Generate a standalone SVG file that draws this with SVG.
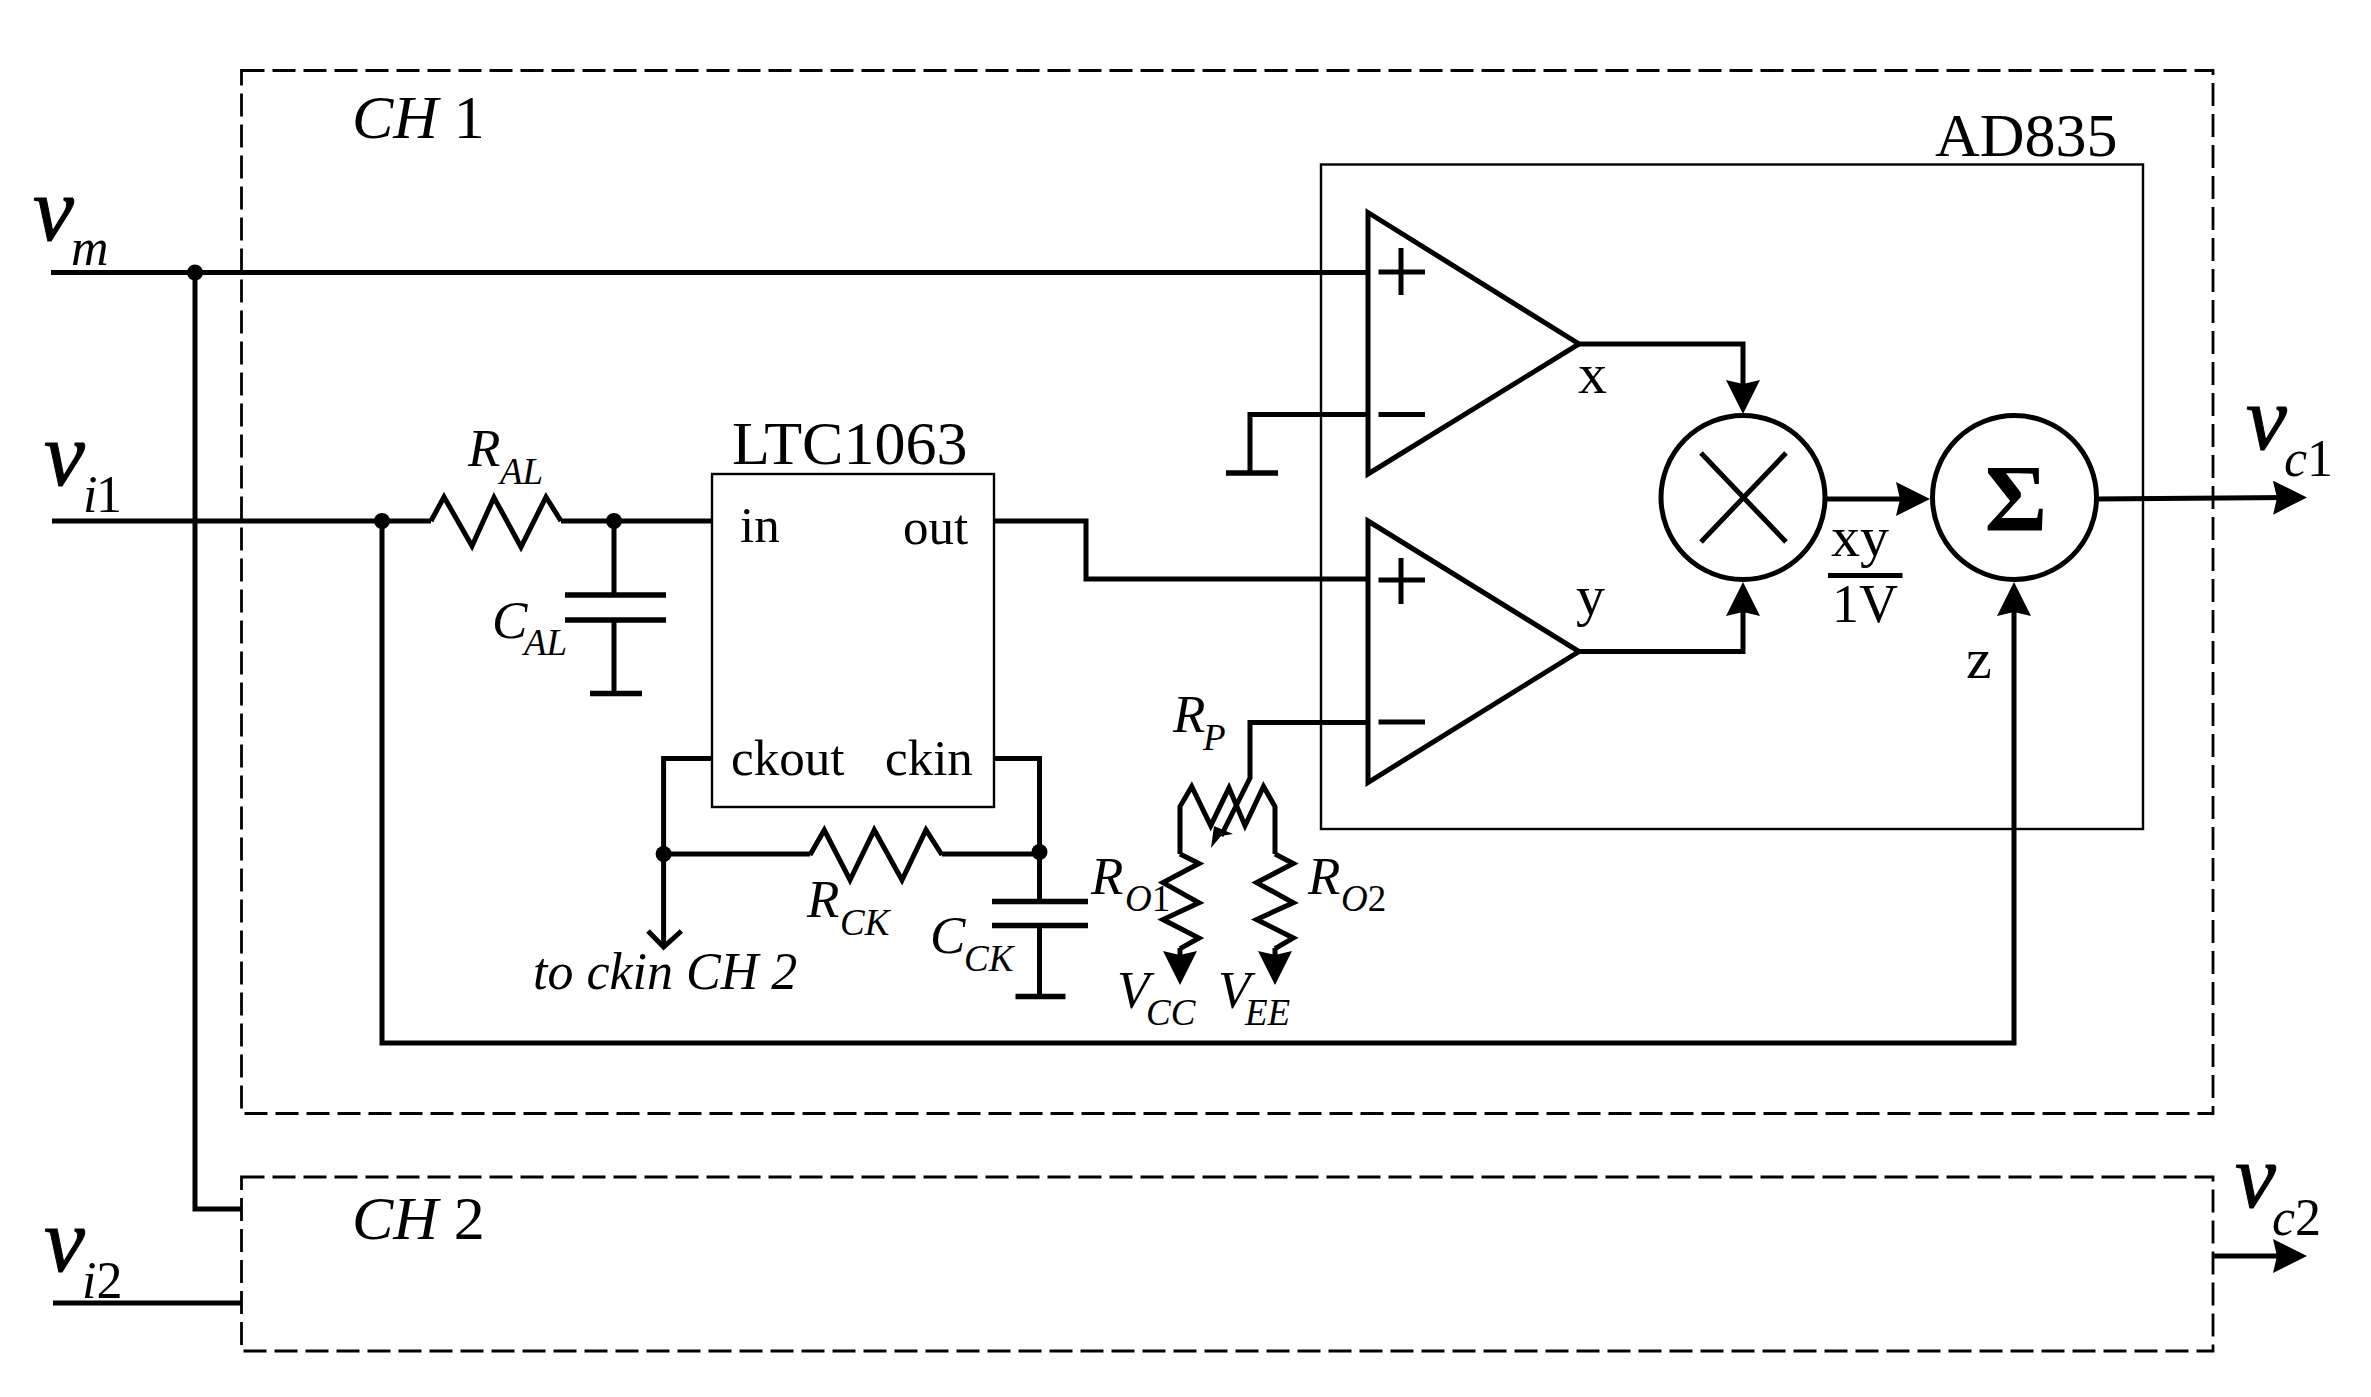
<svg xmlns="http://www.w3.org/2000/svg" width="2371" height="1397" viewBox="0 0 2371 1397">
<style>
text{font-family:"Liberation Serif","Times New Roman",serif;fill:#000}
.i{font-style:italic}
.s{font-size:51px}
.m{font-size:62px}
.l{font-size:58px}
.v{font-size:92px;font-style:italic;stroke:#000;stroke-width:1}
.sub{font-size:52px;font-style:italic}
.r{font-size:53px;font-style:italic}
.ss{font-size:37px;font-style:italic}
.w{fill:none;stroke:#000;stroke-width:5;stroke-linejoin:miter;stroke-linecap:butt}
.t{fill:none;stroke:#000;stroke-width:2.4}
.d{fill:none;stroke:#000;stroke-width:2.8;stroke-dasharray:23 8}
.p{fill:none;stroke:#000;stroke-width:5.500}
.dot{fill:#000}
</style>
<defs>
<marker id="head" markerUnits="userSpaceOnUse" markerWidth="34" markerHeight="34" viewBox="0 0 34 34" refX="22" refY="17" orient="auto">
<path d="M0 0L34 17L0 34L4 17Z" fill="#000"/>
</marker>
</defs>
<rect width="2371" height="1397" fill="#fff"/>

<g id="ch1-box"><rect class="d" x="241.5" y="70.5" width="1971.5" height="1043"/><text class="m" x="352" y="138"><tspan class="i">CH</tspan> 1</text></g>
<g id="ch2-box"><rect class="d" x="241.5" y="1177" width="1971.5" height="174"/><text class="m" x="352" y="1239"><tspan class="i">CH</tspan> 2</text></g>

<g id="connectors">
<path class="w" d="M51 272.500H1368"/>
<path class="w" d="M195 272.500V1209H242"/>
<path class="w" d="M52 521H431"/>
<path class="w" d="M561 521H712"/>
<path class="w" d="M382 521V1043H2014V594" marker-end="url(#head)"/>
<path class="w" d="M993 521H1086V579H1368"/>
<path class="w" d="M1250 414.500H1368M1250 412V473"/>
<path class="w" d="M1250 722.500H1368M1250 720V778L1221 836"/>
<path class="w" d="M614 521V595M614 620V693"/>
<path class="w" d="M712 758.500H663.600V945"/>
<path class="w" d="M648 931L663.600 947L681.400 931"/>
<path class="w" d="M664 854H810M942 854H1039"/>
<path class="w" d="M994 758.500H1039.500V901M1039.500 925V996"/>
<path class="w" d="M1180 948V973" marker-end="url(#head)"/>
<path class="w" d="M1275 948V973" marker-end="url(#head)"/>
<path class="w" d="M1579 344H1743V402" marker-end="url(#head)"/>
<path class="w" d="M1579 651.500H1743V594" marker-end="url(#head)"/>
<path class="w" d="M1826 499H1918" marker-end="url(#head)"/>
<path class="w" d="M2096 499L2295 497.500" marker-end="url(#head)"/>
<path class="w" d="M2213 1256H2295" marker-end="url(#head)"/>
<path class="w" d="M53 1303H242"/>
<circle class="dot" cx="195" cy="272.500" r="8"/>
<circle class="dot" cx="382" cy="521" r="8"/>
<circle class="dot" cx="614" cy="521" r="8"/>
<circle class="dot" cx="663.600" cy="854" r="8"/>
<circle class="dot" cx="1039.500" cy="852" r="8"/>
</g>

<g id="ground-x"><path class="p" d="M1226 473H1278"/></g>
<g id="label-vm"><text class="v" x="33" y="240">v</text><text class="sub" x="71" y="265">m</text></g>
<g id="label-vi1"><text class="v" x="44" y="485">v</text><text class="sub" x="83" y="512">i</text><text class="l" x="96" y="512" style="font-size:52px">1</text></g>
<g id="label-vi2"><text class="v" x="44" y="1271">v</text><text class="sub" x="82" y="1298">i<tspan font-style="normal">2</tspan></text></g>
<g id="label-vc1"><text class="v" x="2246" y="449">v</text><text class="sub" x="2284" y="476">c<tspan font-style="normal">1</tspan></text></g>
<g id="label-vc2"><text class="v" x="2235" y="1207">v</text><text class="sub" x="2272" y="1235">c<tspan font-style="normal">2</tspan></text></g>

<g id="r-al"><path class="w" d="M431 521L444 497L472 546L494 497.500L521 547L546 497L561 521"/><text class="r" x="468" y="466">R</text><text class="ss" x="500" y="484">AL</text></g>
<g id="c-al"><path class="p" d="M565 595H666M565 620H666M590 693.500H642"/><text class="r" x="492" y="638">C</text><text class="ss" x="524" y="655">AL</text></g>

<g id="ltc1063"><rect class="t" x="712" y="474" width="282" height="333"/><text class="m" x="732" y="464">LTC1063</text><text class="s" x="740" y="542">in</text><text class="s" x="903" y="544">out</text><text class="s" x="731" y="775">ckout</text><text class="s" x="885" y="775">ckin</text></g>

<g id="r-ck"><path class="w" d="M810 855L824.300 830L850 880L874.300 830L902 880L926 830L942 855"/><text class="r" x="807" y="917">R</text><text class="ss" x="840" y="935">CK</text></g>
<g id="c-ck"><path class="p" d="M992 901.500H1088M992 925.500H1088M1015.500 996.500H1065.500"/><text class="r" x="930" y="953">C</text><text class="ss" x="964" y="971">CK</text></g>
<g id="label-to-ckin"><text class="i" font-size="52" x="533" y="989">to ckin CH 2</text></g>

<g id="r-p"><path class="w" d="M1180 854V806.600L1191.700 786.500L1210.700 825.700L1229 787.800L1245 825.700L1263.500 786.500L1275 806.600V854"/><path class="dot" d="M1211 848L1214 826L1233 834L1221 836Z"/><text class="r" x="1173" y="732">R</text><text class="ss" x="1203" y="750">P</text></g>
<g id="r-o1"><path class="w" d="M1180 854L1199 863.500L1163 882.600L1199 902.700L1163 919.500L1199 938L1180 948.600"/><text class="r" x="1091" y="894">R</text><text class="ss" x="1125" y="911">O<tspan font-style="normal">1</tspan></text></g>
<g id="r-o2"><path class="w" d="M1275 854L1293.300 863.500L1256.600 882.600L1293.300 902.700L1256.600 919.500L1293.300 938L1275 948.600"/><text class="r" x="1308" y="894">R</text><text class="ss" x="1341" y="911">O<tspan font-style="normal">2</tspan></text></g>
<g id="label-vcc"><text class="r" x="1117" y="1008">V</text><text class="ss" x="1146" y="1025">CC</text></g>
<g id="label-vee"><text class="r" x="1218" y="1008">V</text><text class="ss" x="1245" y="1025">EE</text></g>

<g id="ad835"><rect class="t" x="1321" y="164.500" width="822" height="664.500"/><text class="m" x="1935" y="156">AD835</text></g>
<g id="opamp-x"><path class="w" d="M1368 212.500L1579 344L1368 474Z"/><path class="w" d="M1378.500 272H1425M1401 248V295M1378.500 414.500H1425"/><text class="l" x="1578" y="393">x</text></g>
<g id="opamp-y"><path class="w" d="M1368 521L1579 651.500L1368 782.500Z"/><path class="w" d="M1378.500 580H1425M1401 558V604M1378.500 722H1425"/><text class="l" x="1576" y="615">y</text></g>
<g id="multiplier"><circle class="w" cx="1743" cy="497.500" r="82"/><path class="w" d="M1701 453L1786 542M1786 453L1701 542"/></g>
<g id="summer"><circle class="w" cx="2014.500" cy="497.500" r="82"/><text x="2016" y="531" text-anchor="middle" font-weight="bold" style="font-size:96px">Σ</text></g>
<g id="label-xy"><text class="l" x="1831" y="556">xy</text><path class="w" d="M1828 575.500H1902.500"/><text x="1832" y="622" style="font-size:54px">1V</text></g>
<g id="label-z"><text class="l" x="1966" y="678">z</text></g>
</svg>
